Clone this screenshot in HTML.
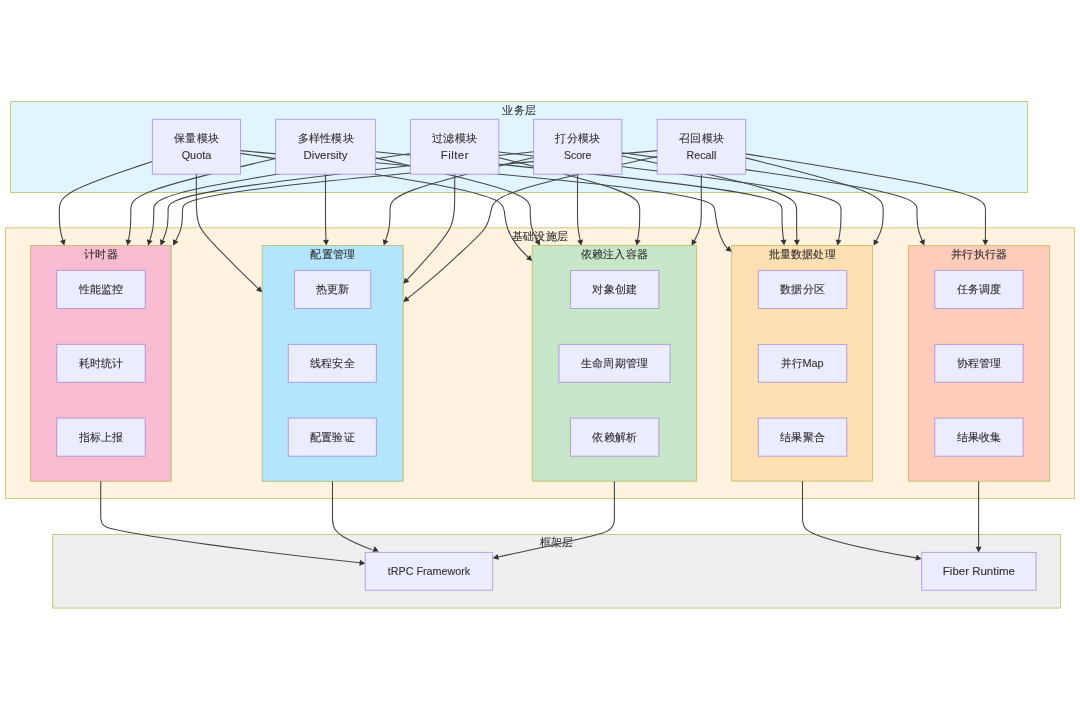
<!DOCTYPE html><html><head><meta charset="utf-8"><style>html,body{margin:0;padding:0;background:#fff;width:1080px;height:710px;overflow:hidden}svg{display:block;will-change:transform}text{font-family:"Liberation Sans", sans-serif;fill:#333333;stroke:#333;stroke-width:0.12px}</style></head><body>
<svg width="1080" height="710" viewBox="0 0 1080 710">
<rect x="10.5" y="101.5" width="1017.1" height="91.0" fill="#e1f5fe" stroke="#aaaa33" stroke-opacity="0.6" stroke-width="1"/>
<text x="519.05" y="113.80" font-size="11.35" text-anchor="middle" textLength="33.60" lengthAdjust="spacing">业务层</text>
<rect x="5.5" y="227.8" width="1068.9" height="270.8" fill="#fff3e0" stroke="#aaaa33" stroke-opacity="0.6" stroke-width="1"/>
<text x="539.95" y="240.10" font-size="11.35" text-anchor="middle" textLength="56.00" lengthAdjust="spacing">基础设施层</text>
<rect x="52.7" y="534.5" width="1007.8" height="73.6" fill="#efefef" stroke="#aaaa33" stroke-opacity="0.6" stroke-width="1"/>
<text x="556.60" y="545.80" font-size="11.35" text-anchor="middle" textLength="33.60" lengthAdjust="spacing">框架层</text>
<rect x="30.5" y="245.5" width="140.7" height="235.8" fill="#f8bbd0" stroke="#aaaa33" stroke-opacity="0.6" stroke-width="1"/>
<text x="100.85" y="257.80" font-size="11.35" text-anchor="middle" textLength="33.60" lengthAdjust="spacing">计时器</text>
<rect x="262.2" y="245.5" width="141.1" height="235.8" fill="#b3e5fc" stroke="#aaaa33" stroke-opacity="0.6" stroke-width="1"/>
<text x="332.75" y="257.80" font-size="11.35" text-anchor="middle" textLength="44.80" lengthAdjust="spacing">配置管理</text>
<rect x="532.2" y="245.4" width="164.3" height="235.8" fill="#c8e6c9" stroke="#aaaa33" stroke-opacity="0.6" stroke-width="1"/>
<text x="614.35" y="257.70" font-size="11.35" text-anchor="middle" textLength="67.20" lengthAdjust="spacing">依赖注入容器</text>
<rect x="731.7" y="245.5" width="140.8" height="235.6" fill="#ffe0b2" stroke="#aaaa33" stroke-opacity="0.6" stroke-width="1"/>
<text x="802.10" y="257.80" font-size="11.35" text-anchor="middle" textLength="67.20" lengthAdjust="spacing">批量数据处理</text>
<rect x="908.4" y="245.6" width="141.2" height="235.6" fill="#ffccbc" stroke="#aaaa33" stroke-opacity="0.6" stroke-width="1"/>
<text x="979.00" y="257.90" font-size="11.35" text-anchor="middle" textLength="56.00" lengthAdjust="spacing">并行执行器</text>
<path d="M152.40,161.44L136.88,166.62C121.37,171.80 90.33,182.15 74.82,190.27C59.30,198.38 59.30,204.27 59.30,210.15C59.30,216.03 59.30,221.92 59.92,227.07C60.55,232.22 61.80,236.65 62.42,238.86L63.05,241.07" fill="none" stroke="#474747" stroke-width="1.1"/>
<path d="M64.30,245.50L59.89,240.93L65.66,239.30Z" fill="#333"/>
<path d="M275.60,158.48L251.47,164.15C227.33,169.82 179.07,181.16 154.93,189.77C130.80,198.38 130.80,204.27 130.80,210.15C130.80,216.03 130.80,221.92 130.39,227.05C129.98,232.19 129.16,236.59 128.75,238.78L128.34,240.98" fill="none" stroke="#474747" stroke-width="1.1"/>
<path d="M127.50,245.50L125.58,239.45L131.48,240.54Z" fill="#333"/>
<path d="M410.40,153.47L367.62,159.98C324.85,166.48 239.30,179.49 196.53,188.94C153.75,198.38 153.75,204.27 153.75,210.15C153.75,216.03 153.75,221.92 153.04,227.08C152.33,232.24 150.92,236.68 150.21,238.90L149.50,241.12" fill="none" stroke="#474747" stroke-width="1.1"/>
<path d="M148.10,245.50L146.94,239.25L152.66,241.08Z" fill="#333"/>
<path d="M533.60,151.68L472.68,158.48C411.77,165.28 289.93,178.89 229.02,188.64C168.10,198.38 168.10,204.27 168.10,210.15C168.10,216.03 168.10,221.92 167.15,227.10C166.20,232.29 164.30,236.78 163.35,239.02L162.39,241.26" fill="none" stroke="#474747" stroke-width="1.1"/>
<path d="M160.60,245.50L160.02,239.17L165.55,241.51Z" fill="#333"/>
<path d="M657.20,150.65L578.08,157.63C498.97,164.60 340.73,178.55 261.62,188.47C182.50,198.38 182.50,204.27 182.50,210.15C182.50,216.03 182.50,221.92 181.29,227.13C180.09,232.35 177.67,236.89 176.46,239.16L175.26,241.44" fill="none" stroke="#474747" stroke-width="1.1"/>
<path d="M173.10,245.50L173.08,239.15L178.38,241.96Z" fill="#333"/>
<path d="M196.36,174.20L196.35,177.25C196.34,180.30 196.32,186.40 196.31,192.39C196.30,198.38 196.30,204.27 196.58,210.15C196.87,216.03 197.43,221.92 200.55,227.81C203.67,233.70 209.33,239.60 216.33,246.80C223.33,254.00 231.67,262.50 238.98,269.77C246.29,277.04 252.59,283.08 255.73,286.10L258.88,289.12" fill="none" stroke="#474747" stroke-width="1.1"/>
<path d="M262.20,292.30L256.08,290.59L260.24,286.26Z" fill="#333"/>
<path d="M325.50,174.20L325.50,177.25C325.50,180.30 325.50,186.40 325.50,192.39C325.50,198.38 325.50,204.27 325.50,210.15C325.50,216.03 325.50,221.92 325.59,227.04C325.69,232.17 325.87,236.54 325.96,238.72L326.06,240.90" fill="none" stroke="#474747" stroke-width="1.1"/>
<path d="M326.25,245.50L323.02,240.03L329.01,239.78Z" fill="#333"/>
<path d="M533.60,157.50L509.67,163.33C485.73,169.17 437.87,180.83 413.93,189.61C390.00,198.38 390.00,204.27 390.00,210.15C390.00,216.03 390.00,221.92 389.21,227.09C388.43,232.25 386.85,236.71 386.07,238.94L385.28,241.16" fill="none" stroke="#474747" stroke-width="1.1"/>
<path d="M383.75,245.50L382.79,239.22L388.44,241.22Z" fill="#333"/>
<path d="M454.66,174.20L454.67,177.25C454.67,180.30 454.69,186.40 454.69,192.39C454.70,198.38 454.70,204.27 454.25,210.15C453.80,216.03 452.90,221.92 450.12,227.81C447.33,233.70 442.67,239.60 437.00,246.30C431.33,253.00 424.67,260.50 419.41,266.32C414.14,272.14 410.29,276.29 408.36,278.36L406.43,280.43" fill="none" stroke="#474747" stroke-width="1.1"/>
<path d="M403.30,283.80L404.92,277.66L409.31,281.74Z" fill="#333"/>
<path d="M657.20,156.56L630.17,162.55C603.13,168.54 549.07,180.52 521.37,189.45C493.67,198.38 492.33,204.27 491.17,210.15C490.00,216.03 489.00,221.92 485.17,227.81C481.33,233.70 474.67,239.60 466.33,247.30C458.00,255.00 448.00,264.50 437.81,273.42C427.63,282.34 417.26,290.68 412.07,294.85L406.88,299.02" fill="none" stroke="#474747" stroke-width="1.1"/>
<path d="M403.30,301.90L405.78,296.05L409.54,300.73Z" fill="#333"/>
<path d="M240.50,153.39L283.75,159.91C327.00,166.43 413.50,179.46 457.52,188.92C501.53,198.38 503.07,204.27 504.07,210.15C505.07,216.03 505.53,221.92 507.43,227.81C509.33,233.70 512.67,239.60 516.48,244.60C520.29,249.61 524.58,253.71 526.73,255.77L528.88,257.82" fill="none" stroke="#474747" stroke-width="1.1"/>
<path d="M532.20,261.00L526.08,259.30L530.23,254.96Z" fill="#333"/>
<path d="M375.40,157.90L401.22,163.66C427.03,169.43 478.67,180.97 504.48,189.67C530.30,198.38 530.30,204.27 530.30,210.15C530.30,216.03 530.30,221.92 531.53,227.13C532.77,232.35 535.24,236.90 536.47,239.18L537.71,241.46" fill="none" stroke="#474747" stroke-width="1.1"/>
<path d="M539.90,245.50L534.59,242.01L539.87,239.15Z" fill="#333"/>
<path d="M577.58,174.20L577.57,177.25C577.55,180.30 577.53,186.40 577.51,192.39C577.50,198.38 577.50,204.27 577.50,210.15C577.50,216.03 577.50,221.92 577.97,227.06C578.44,232.20 579.39,236.60 579.86,238.80L580.33,241.00" fill="none" stroke="#474747" stroke-width="1.1"/>
<path d="M581.30,245.50L577.19,240.65L583.06,239.40Z" fill="#333"/>
<path d="M498.80,157.67L522.28,163.48C545.77,169.28 592.73,180.89 616.22,189.64C639.70,198.38 639.70,204.27 639.70,210.15C639.70,216.03 639.70,221.92 639.33,227.05C638.96,232.19 638.21,236.58 637.84,238.77L637.47,240.96" fill="none" stroke="#474747" stroke-width="1.1"/>
<path d="M636.70,245.50L634.68,239.48L640.59,240.48Z" fill="#333"/>
<path d="M701.36,174.20L701.35,177.25C701.34,180.30 701.32,186.40 701.31,192.39C701.30,198.38 701.30,204.27 701.30,210.15C701.30,216.03 701.30,221.92 700.07,227.13C698.83,232.35 696.36,236.90 695.13,239.18L693.89,241.46" fill="none" stroke="#474747" stroke-width="1.1"/>
<path d="M691.70,245.50L691.73,239.15L697.01,242.01Z" fill="#333"/>
<path d="M240.50,150.66L319.08,157.63C397.67,164.61 554.83,178.55 633.92,188.47C713.00,198.38 714.00,204.27 714.83,210.15C715.67,216.03 716.33,221.92 717.83,227.81C719.33,233.70 721.67,239.60 723.52,243.10C725.37,246.61 726.74,247.71 727.43,248.26L728.12,248.82" fill="none" stroke="#474747" stroke-width="1.1"/>
<path d="M731.70,251.70L725.46,250.52L729.22,245.85Z" fill="#333"/>
<path d="M375.40,151.75L443.17,158.54C510.93,165.33 646.47,178.92 714.23,188.65C782.00,198.38 782.00,204.27 782.00,210.15C782.00,216.03 782.00,221.92 782.27,227.05C782.54,232.18 783.09,236.56 783.36,238.75L783.63,240.94" fill="none" stroke="#474747" stroke-width="1.1"/>
<path d="M784.20,245.50L780.53,240.31L786.49,239.57Z" fill="#333"/>
<path d="M621.80,155.97L650.93,162.06C680.07,168.14 738.33,180.32 767.47,189.35C796.60,198.38 796.60,204.27 796.60,210.15C796.60,216.03 796.60,221.92 796.65,227.04C796.70,232.17 796.80,236.53 796.85,238.72L796.90,240.90" fill="none" stroke="#474747" stroke-width="1.1"/>
<path d="M797.00,245.50L793.87,239.97L799.87,239.83Z" fill="#333"/>
<path d="M498.80,151.98L555.83,158.74C612.87,165.49 726.93,178.99 783.97,188.69C841.00,198.38 841.00,204.27 841.00,210.15C841.00,216.03 841.00,221.92 840.57,227.06C840.13,232.20 839.26,236.59 838.83,238.79L838.39,240.99" fill="none" stroke="#474747" stroke-width="1.1"/>
<path d="M837.50,245.50L835.64,239.42L841.53,240.59Z" fill="#333"/>
<path d="M745.70,157.89L768.62,163.66C791.53,169.43 837.37,180.96 860.28,189.67C883.20,198.38 883.20,204.27 883.20,210.15C883.20,216.03 883.20,221.92 881.97,227.13C880.73,232.35 878.26,236.90 877.03,239.18L875.79,241.46" fill="none" stroke="#474747" stroke-width="1.1"/>
<path d="M873.60,245.50L873.63,239.15L878.91,242.01Z" fill="#333"/>
<path d="M621.80,152.70L671.00,159.33C720.20,165.96 818.60,179.23 867.80,188.81C917.00,198.38 917.00,204.27 917.00,210.15C917.00,216.03 917.00,221.92 917.91,227.10C918.82,232.28 920.64,236.76 921.56,239.00L922.47,241.24" fill="none" stroke="#474747" stroke-width="1.1"/>
<path d="M924.20,245.50L919.31,241.44L924.87,239.18Z" fill="#333"/>
<path d="M745.70,153.88L785.67,160.31C825.63,166.75 905.57,179.63 945.53,189.00C985.50,198.38 985.50,204.27 985.50,210.15C985.50,216.03 985.50,221.92 985.48,227.04C985.45,232.17 985.40,236.53 985.38,238.72L985.35,240.90" fill="none" stroke="#474747" stroke-width="1.1"/>
<path d="M985.30,245.50L982.36,239.87L988.36,239.93Z" fill="#333"/>
<path d="M100.7,481.3L100.7,516C100.7,524 103,527 112,528.8C150,537.5 250,551 360,562.8" fill="none" stroke="#474747" stroke-width="1.1"/>
<path d="M365.20,563.50L359.27,565.77L360.02,559.82Z" fill="#333"/>
<path d="M332.5,481.3L332.5,519C332.5,528 336,532 343,536.5C352,542 362,546 372,549.8" fill="none" stroke="#474747" stroke-width="1.1"/>
<path d="M378.70,551.40L372.36,551.85L374.82,546.37Z" fill="#333"/>
<path d="M614.4,481.2L614.4,519C614.4,527 610,531 600,533.8C570,542 530,550 498,557" fill="none" stroke="#474747" stroke-width="1.1"/>
<path d="M492.80,558.20L497.56,553.99L498.94,559.83Z" fill="#333"/>
<path d="M802.5,481.1L802.5,518C802.5,528 806,530.5 816.7,535C835,542 870,550 916,557.9" fill="none" stroke="#474747" stroke-width="1.1"/>
<path d="M921.50,558.90L915.38,560.59L916.70,554.74Z" fill="#333"/>
<path d="M978.6,481.2L978.6,547" fill="none" stroke="#474747" stroke-width="1.1"/>
<path d="M978.60,552.40L975.60,546.80L981.60,546.80Z" fill="#333"/>
<rect x="152.4" y="119.3" width="88.1" height="54.9" fill="#ececff" stroke="#9370db" stroke-opacity="0.6" stroke-width="1"/>
<text x="196.45" y="142.25" font-size="11.35" text-anchor="middle" textLength="44.80" lengthAdjust="spacing">保量模块</text>
<text x="196.45" y="159.25" font-size="11.35" text-anchor="middle" textLength="29.60" lengthAdjust="spacingAndGlyphs">Quota</text>
<rect x="275.6" y="119.3" width="99.8" height="54.9" fill="#ececff" stroke="#9370db" stroke-opacity="0.6" stroke-width="1"/>
<text x="325.50" y="142.25" font-size="11.35" text-anchor="middle" textLength="56.00" lengthAdjust="spacing">多样性模块</text>
<text x="325.50" y="159.25" font-size="11.35" text-anchor="middle" textLength="43.80" lengthAdjust="spacingAndGlyphs">Diversity</text>
<rect x="410.4" y="119.3" width="88.4" height="54.9" fill="#ececff" stroke="#9370db" stroke-opacity="0.6" stroke-width="1"/>
<text x="454.60" y="142.25" font-size="11.35" text-anchor="middle" textLength="44.80" lengthAdjust="spacing">过滤模块</text>
<text x="454.60" y="159.25" font-size="11.35" text-anchor="middle" textLength="27.70" lengthAdjust="spacing">Filter</text>
<rect x="533.6" y="119.3" width="88.2" height="54.9" fill="#ececff" stroke="#9370db" stroke-opacity="0.6" stroke-width="1"/>
<text x="577.70" y="142.25" font-size="11.35" text-anchor="middle" textLength="44.80" lengthAdjust="spacing">打分模块</text>
<text x="577.70" y="159.25" font-size="11.35" text-anchor="middle" textLength="27.40" lengthAdjust="spacingAndGlyphs">Score</text>
<rect x="657.2" y="119.3" width="88.5" height="54.9" fill="#ececff" stroke="#9370db" stroke-opacity="0.6" stroke-width="1"/>
<text x="701.45" y="142.25" font-size="11.35" text-anchor="middle" textLength="44.80" lengthAdjust="spacing">召回模块</text>
<text x="701.45" y="159.25" font-size="11.35" text-anchor="middle" textLength="29.70" lengthAdjust="spacingAndGlyphs">Recall</text>
<rect x="56.8" y="270.4" width="88.4" height="38.1" fill="#ececff" stroke="#9370db" stroke-opacity="0.6" stroke-width="1"/>
<text x="101.00" y="293.45" font-size="11.35" text-anchor="middle" textLength="44.80" lengthAdjust="spacing">性能监控</text>
<rect x="56.8" y="344.4" width="88.4" height="37.9" fill="#ececff" stroke="#9370db" stroke-opacity="0.6" stroke-width="1"/>
<text x="101.00" y="367.35" font-size="11.35" text-anchor="middle" textLength="44.80" lengthAdjust="spacing">耗时统计</text>
<rect x="56.8" y="418.1" width="88.4" height="38.1" fill="#ececff" stroke="#9370db" stroke-opacity="0.6" stroke-width="1"/>
<text x="101.00" y="441.15" font-size="11.35" text-anchor="middle" textLength="44.80" lengthAdjust="spacing">指标上报</text>
<rect x="294.5" y="270.4" width="76.2" height="38.1" fill="#ececff" stroke="#9370db" stroke-opacity="0.6" stroke-width="1"/>
<text x="332.60" y="293.45" font-size="11.35" text-anchor="middle" textLength="33.60" lengthAdjust="spacing">热更新</text>
<rect x="288.3" y="344.4" width="88.1" height="37.9" fill="#ececff" stroke="#9370db" stroke-opacity="0.6" stroke-width="1"/>
<text x="332.35" y="367.35" font-size="11.35" text-anchor="middle" textLength="44.80" lengthAdjust="spacing">线程安全</text>
<rect x="288.3" y="418.1" width="88.1" height="38.1" fill="#ececff" stroke="#9370db" stroke-opacity="0.6" stroke-width="1"/>
<text x="332.35" y="441.15" font-size="11.35" text-anchor="middle" textLength="44.80" lengthAdjust="spacing">配置验证</text>
<rect x="570.4" y="270.4" width="88.5" height="38.1" fill="#ececff" stroke="#9370db" stroke-opacity="0.6" stroke-width="1"/>
<text x="614.65" y="293.45" font-size="11.35" text-anchor="middle" textLength="44.80" lengthAdjust="spacing">对象创建</text>
<rect x="559.0" y="344.4" width="111.0" height="37.9" fill="#ececff" stroke="#9370db" stroke-opacity="0.6" stroke-width="1"/>
<text x="614.50" y="367.35" font-size="11.35" text-anchor="middle" textLength="67.20" lengthAdjust="spacing">生命周期管理</text>
<rect x="570.4" y="418.1" width="88.5" height="38.1" fill="#ececff" stroke="#9370db" stroke-opacity="0.6" stroke-width="1"/>
<text x="614.65" y="441.15" font-size="11.35" text-anchor="middle" textLength="44.80" lengthAdjust="spacing">依赖解析</text>
<rect x="758.3" y="270.4" width="88.4" height="38.1" fill="#ececff" stroke="#9370db" stroke-opacity="0.6" stroke-width="1"/>
<text x="802.50" y="293.45" font-size="11.35" text-anchor="middle" textLength="44.80" lengthAdjust="spacing">数据分区</text>
<rect x="758.3" y="344.4" width="88.4" height="37.9" fill="#ececff" stroke="#9370db" stroke-opacity="0.6" stroke-width="1"/>
<text x="802.50" y="367.35" font-size="11.35" text-anchor="middle" textLength="42.30" lengthAdjust="spacingAndGlyphs">并行Map</text>
<rect x="758.3" y="418.1" width="88.4" height="38.1" fill="#ececff" stroke="#9370db" stroke-opacity="0.6" stroke-width="1"/>
<text x="802.50" y="441.15" font-size="11.35" text-anchor="middle" textLength="44.80" lengthAdjust="spacing">结果聚合</text>
<rect x="934.8" y="270.4" width="88.3" height="38.1" fill="#ececff" stroke="#9370db" stroke-opacity="0.6" stroke-width="1"/>
<text x="978.95" y="293.45" font-size="11.35" text-anchor="middle" textLength="44.80" lengthAdjust="spacing">任务调度</text>
<rect x="934.8" y="344.4" width="88.3" height="37.9" fill="#ececff" stroke="#9370db" stroke-opacity="0.6" stroke-width="1"/>
<text x="978.95" y="367.35" font-size="11.35" text-anchor="middle" textLength="44.80" lengthAdjust="spacing">协程管理</text>
<rect x="934.8" y="418.1" width="88.3" height="38.1" fill="#ececff" stroke="#9370db" stroke-opacity="0.6" stroke-width="1"/>
<text x="978.95" y="441.15" font-size="11.35" text-anchor="middle" textLength="44.80" lengthAdjust="spacing">结果收集</text>
<rect x="365.2" y="552.4" width="127.5" height="37.8" fill="#ececff" stroke="#9370db" stroke-opacity="0.6" stroke-width="1"/>
<text x="428.95" y="575.30" font-size="11.35" text-anchor="middle" textLength="82.40" lengthAdjust="spacingAndGlyphs">tRPC Framework</text>
<rect x="921.7" y="552.4" width="114.4" height="37.8" fill="#ececff" stroke="#9370db" stroke-opacity="0.6" stroke-width="1"/>
<text x="978.90" y="575.30" font-size="11.35" text-anchor="middle" textLength="72.10" lengthAdjust="spacingAndGlyphs">Fiber Runtime</text>
</svg></body></html>
